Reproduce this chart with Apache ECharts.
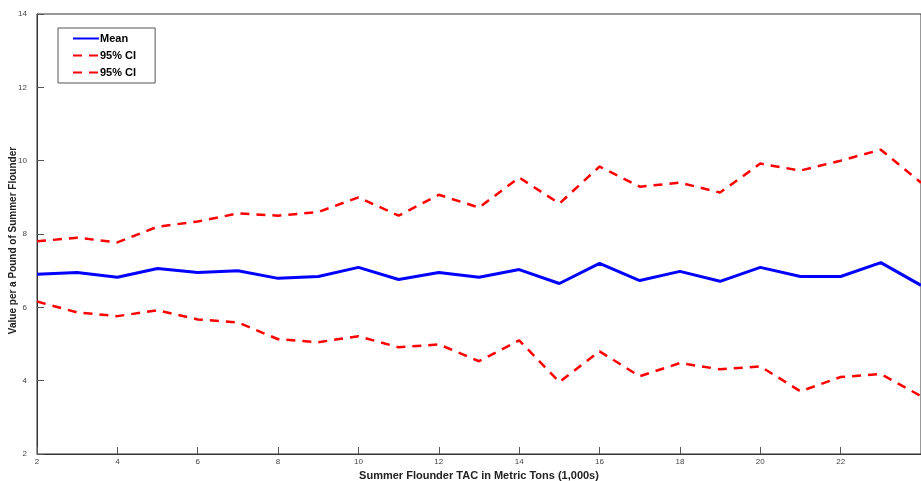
<!DOCTYPE html>
<html><head><meta charset="utf-8">
<script src="https://cdn.jsdelivr.net/npm/echarts@6/dist/echarts.min.js"></script>
<style>html,body{margin:0;padding:0;background:#fff}#c{width:921px;height:481px}</style>
</head><body><div id="c"></div>
<script>
var tac = [2,3,4,5,6,7,8,9,10,11,12,13,14,15,16,17,18,19,20,21,22,23,24];
var meanVal = [6.90,6.95,6.82,7.06,6.95,7.00,6.79,6.84,7.09,6.76,6.95,6.82,7.03,6.65,7.20,6.73,6.98,6.71,7.09,6.84,6.84,7.22,6.60];
var upperCI = [7.80,7.90,7.77,8.20,8.34,8.56,8.50,8.60,9.00,8.50,9.07,8.72,9.54,8.83,9.84,9.29,9.40,9.13,9.92,9.73,10.00,10.30,9.40];
var lowerCI = [6.16,5.86,5.76,5.92,5.67,5.59,5.13,5.05,5.21,4.91,4.99,4.53,5.10,3.96,4.80,4.12,4.48,4.31,4.39,3.71,4.10,4.18,3.58];

function pairs(v){ return tac.map(function(x,i){ return [x, v[i]]; }); }

var chart = echarts.init(document.getElementById('c'));
var axisStyle = {lineStyle:{color:'#333',width:1}};
var tickStyle = {show:true, inside:true, length:7, lineStyle:{color:'#555'}};
var lbl = {color:'#444', fontSize:8, fontFamily:'Liberation Sans'};
chart.setOption({
  animation:false,
  grid:{left:37, right:0, top:14, bottom:27, containLabel:false, outerBoundsMode:'none',
        show:true, borderColor:'#333', borderWidth:1},
  legend:{
    orient:'vertical', left:58, top:28, itemGap:6, itemWidth:26, itemHeight:4,
    backgroundColor:'#fff', borderColor:'#555', borderWidth:1, padding:[5,16,5,14],
    itemStyle:{opacity:0},
    textStyle:{fontSize:11, fontWeight:'bold', color:'#000', fontFamily:'Liberation Sans', padding:[0,0,0,-4]},
    data:['Mean','95% CI','95% CI ']
  },
  graphic:[{
    type:'text', left:8, top:'middle', rotation:Math.PI/2, originX:0, originY:0,
    x:4, y:240,
    style:{text:'Value per a Pound of Summer Flounder', fontSize:10, fontWeight:'bold',
           fill:'#222', fontFamily:'Liberation Sans', align:'center', verticalAlign:'middle'}
  }],
  xAxis:{
    type:'value', min:2, max:24, interval:2,
    name:'Summer Flounder TAC in Metric Tons (1,000s)', nameLocation:'middle', nameGap:16,
    nameTextStyle:{fontSize:11, fontWeight:'bold', color:'#222', fontFamily:'Liberation Sans'},
    axisLine:axisStyle, axisTick:tickStyle, splitLine:{show:false},
    axisLabel:Object.assign({margin:4, formatter:function(v){return v===24?'':v;}}, lbl)
  },
  yAxis:{
    type:'value', min:2, max:14, interval:2,
    axisLine:axisStyle, axisTick:tickStyle, splitLine:{show:false},
    axisLabel:Object.assign({margin:10}, lbl)
  },
  series:[
    {name:'Mean', type:'line', data:pairs(meanVal), showSymbol:false, symbol:'none',
     lineStyle:{color:'#0000ff', width:3}, itemStyle:{color:'#0000ff'}},
    {name:'95% CI', type:'line', data:pairs(upperCI), showSymbol:false, symbol:'none',
     lineStyle:{color:'#ff0000', width:2.5, type:[9,7]}, itemStyle:{color:'#ff0000'}},
    {name:'95% CI ', type:'line', data:pairs(lowerCI), showSymbol:false, symbol:'none',
     lineStyle:{color:'#ff0000', width:2.5, type:[9,7]}, itemStyle:{color:'#ff0000'}}
  ]
});
</script></body></html>
